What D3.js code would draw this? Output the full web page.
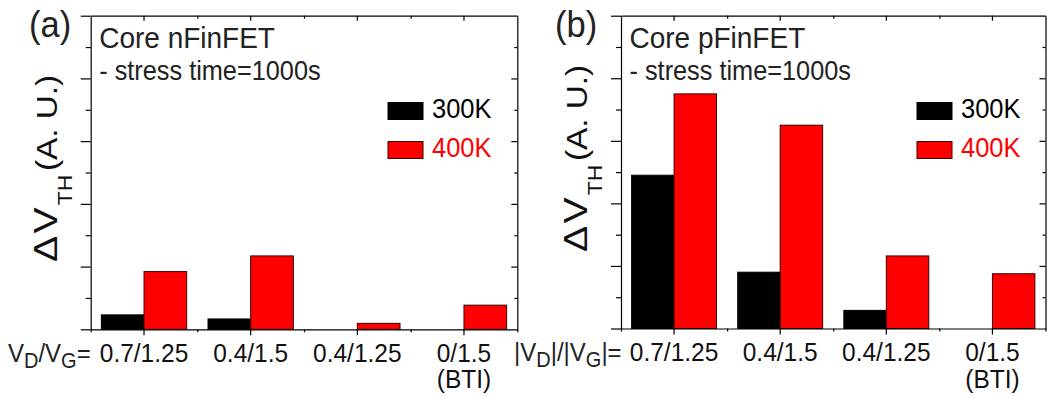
<!DOCTYPE html>
<html>
<head>
<meta charset="utf-8">
<script src="https://cdn.jsdelivr.net/npm/d3@7"></script>
<style>
  body { margin: 0; background: #fff; }
  svg { font-family: "Liberation Sans", Arial, sans-serif; }
</style>
</head>
<body>
<div id="chart"></div>
<script>
// bias conditions (x categories)
var categories = ["0.7/1.25", "0.4/1.5", "0.4/1.25", "0/1.5"];
var secondLine = ["", "", "", "(BTI)"];
var temps = ["300K", "400K"];

// delta Vth, arbitrary units (axis 0..10)
var n300 = [0.46, 0.33, 0, 0];
var n400 = [1.84, 2.34, 0.19, 0.77];
var p300 = [4.90, 1.80, 0.58, 0];
var p400 = [7.50, 6.50, 2.32, 1.75];

var colors = { "300K": "#000000", "400K": "#ff0000" };

var svg = d3.select("#chart").append("svg")
    .attr("width", 1047)
    .attr("height", 396);

// text slightly taller than wide, like the source figure
function stretched(parent, x, y) {
    return parent.append("text")
        .attr("transform", "translate(" + x + "," + y + ") scale(1,1.08)");
}

function drawPanel(cfg) {
    var g = svg.append("g");

    var x = d3.scaleBand()
        .domain(categories)
        .range([cfg.left, cfg.right])
        .paddingInner(0).paddingOuter(0);

    var xSub = d3.scaleBand()
        .domain(temps)
        .range([0, x.bandwidth()])
        .paddingInner(0).paddingOuter(0.25);

    // helper for the minor ticks between categories
    var xEdge = d3.scaleLinear().domain([0, categories.length]).range([cfg.left, cfg.right]);

    var y = d3.scaleLinear()
        .domain([0, 10])
        .range([cfg.bottom, cfg.top]);

    var rows = categories.map(function(c, i) {
        return { cat: c, "300K": cfg.s300[i], "400K": cfg.s400[i] };
    });

    // bars
    var groups = g.selectAll(".cat")
        .data(rows)
        .enter().append("g")
        .attr("transform", function(d) { return "translate(" + x(d.cat) + ",0)"; });

    groups.selectAll("rect")
        .data(function(d) {
            return temps.map(function(t) { return { key: t, value: d[t] }; })
                .filter(function(e) { return e.value > 0; });
        })
        .enter().append("rect")
        .attr("x", function(d) { return xSub(d.key); })
        .attr("width", xSub.bandwidth())
        .attr("y", function(d) { return y(d.value); })
        .attr("height", function(d) { return y(0) - y(d.value); })
        .attr("fill", function(d) { return colors[d.key]; })
        .attr("stroke", function(d) { return d.key === "400K" ? "#3a0000" : "#000"; })
        .attr("stroke-width", 1);

    // axes (frame)
    function style(sel) {
        sel.selectAll("path, line").attr("stroke", "#000").attr("stroke-width", 1.2);
        sel.selectAll("text").remove();
    }

    g.append("g").attr("transform", "translate(0," + cfg.bottom + ")")
        .call(d3.axisBottom(x).tickSize(6).tickSizeOuter(0).tickFormat(""))
        .call(style);
    g.append("g").attr("transform", "translate(0," + cfg.bottom + ")")
        .call(d3.axisBottom(xEdge).tickValues([0, 1, 2, 3, 4]).tickSize(3).tickSizeOuter(0).tickFormat(""))
        .call(style).select(".domain").remove();

    g.append("g").attr("transform", "translate(0," + cfg.top + ")")
        .call(d3.axisTop(x).tickSize(-5).tickSizeOuter(0).tickFormat(""))
        .call(style);
    g.append("g").attr("transform", "translate(0," + cfg.top + ")")
        .call(d3.axisTop(xEdge).tickValues([1, 2, 3]).tickSize(-3).tickSizeOuter(0).tickFormat(""))
        .call(style).select(".domain").remove();

    g.append("g").attr("transform", "translate(" + cfg.left + ",0)")
        .call(d3.axisLeft(y).tickValues([0, 2, 4, 6, 8, 10]).tickSize(10).tickSizeOuter(0).tickFormat(""))
        .call(style);
    g.append("g").attr("transform", "translate(" + cfg.left + ",0)")
        .call(d3.axisLeft(y).tickValues([1, 3, 5, 7, 9]).tickSize(5).tickSizeOuter(0).tickFormat(""))
        .call(style).select(".domain").remove();

    g.append("g").attr("transform", "translate(" + cfg.right + ",0)")
        .call(d3.axisRight(y).tickValues([2, 4, 6, 8]).tickSize(-6).tickSizeOuter(0).tickFormat(""))
        .call(style);
    g.append("g").attr("transform", "translate(" + cfg.right + ",0)")
        .call(d3.axisRight(y).tickValues([1, 3, 5, 7, 9]).tickSize(-3).tickSizeOuter(0).tickFormat(""))
        .call(style).select(".domain").remove();

    // category labels
    categories.forEach(function(c, i) {
        var cx = x(c) + x.bandwidth() / 2;
        stretched(g, cx, cfg.bottom + 32.5)
            .attr("text-anchor", "middle")
            .attr("font-size", 24.5)
            .attr("fill", "#111")
            .text(c);
        if (secondLine[i]) {
            stretched(g, cx, cfg.bottom + 59)
                .attr("text-anchor", "middle")
                .attr("font-size", 24.5)
                .attr("fill", "#111")
                .text(secondLine[i]);
        }
    });

    // bias prefix label
    var pre = stretched(g, cfg.prefixX, cfg.bottom + 32.5)
        .attr("font-size", 24)
        .attr("fill", "#222");
    cfg.prefix.forEach(function(p) {
        pre.append("tspan")
            .attr("font-size", p.sub ? 20 : 24)
            .attr("dy", p.sub ? 6 : (p.back ? -6 : 0))
            .text(p.t);
    });

    // panel letter
    stretched(g, cfg.letterX, 36.5)
        .attr("font-size", 34.5)
        .attr("fill", "#222")
        .text(cfg.letter);

    // device annotation
    stretched(g, cfg.left + 8.5, 48.3)
        .attr("font-size", 28)
        .attr("fill", "#222")
        .text(cfg.device);
    stretched(g, cfg.left + 8.5, 80)
        .attr("font-size", 25.3)
        .attr("fill", "#222")
        .text("- stress time=1000s");

    // legend
    var leg = g.selectAll(".leg")
        .data(temps)
        .enter().append("g")
        .attr("transform", function(d, i) {
            return "translate(" + cfg.legX + "," + (102.5 + i * 39) + ")";
        });
    leg.append("rect")
        .attr("width", 35).attr("height", 17)
        .attr("fill", function(d) { return colors[d]; })
        .attr("stroke", function(d) { return d === "400K" ? "#3a0000" : "#000"; })
        .attr("stroke-width", 1);
    leg.append("text")
        .attr("transform", "translate(44,15.5) scale(1,1.08)")
        .attr("font-size", 25.5)
        .attr("fill", function(d) { return colors[d]; })
        .text(function(d) { return d; });

    // y label
    var yl = g.append("text")
        .attr("transform", "translate(" + cfg.ylabX + "," + cfg.ylabY + ") rotate(-90) scale(1.15,1)")
        .attr("fill", "#111");
    yl.append("tspan").attr("font-size", 34).attr("letter-spacing", 2).text("\u0394V");
    yl.append("tspan").attr("font-size", 20).attr("dy", 15).text("TH");
    yl.append("tspan").attr("font-size", 29).attr("dy", -15).attr("dx", 3).text("(A. U.)");
}

drawPanel({
    left: 90.7, right: 517.3, top: 15.7, bottom: 329.3,
    s300: n300, s400: n400,
    letter: "(a)", letterX: 29,
    device: "Core nFinFET",
    legX: 388,
    ylabX: 57, ylabY: 262,
    prefixX: 8,
    prefix: [{ t: "V" }, { t: "D", sub: true }, { t: "/V", back: true }, { t: "G", sub: true }, { t: "=", back: true }]
});

drawPanel({
    left: 621, right: 1045.5, top: 15.7, bottom: 328.5,
    s300: p300, s400: p400,
    letter: "(b)", letterX: 555,
    device: "Core pFinFET",
    legX: 917,
    ylabX: 587, ylabY: 252,
    prefixX: 514,
    prefix: [{ t: "|V" }, { t: "D", sub: true }, { t: "|/|V", back: true }, { t: "G", sub: true }, { t: "|=", back: true }]
});
</script>
</body>
</html>
